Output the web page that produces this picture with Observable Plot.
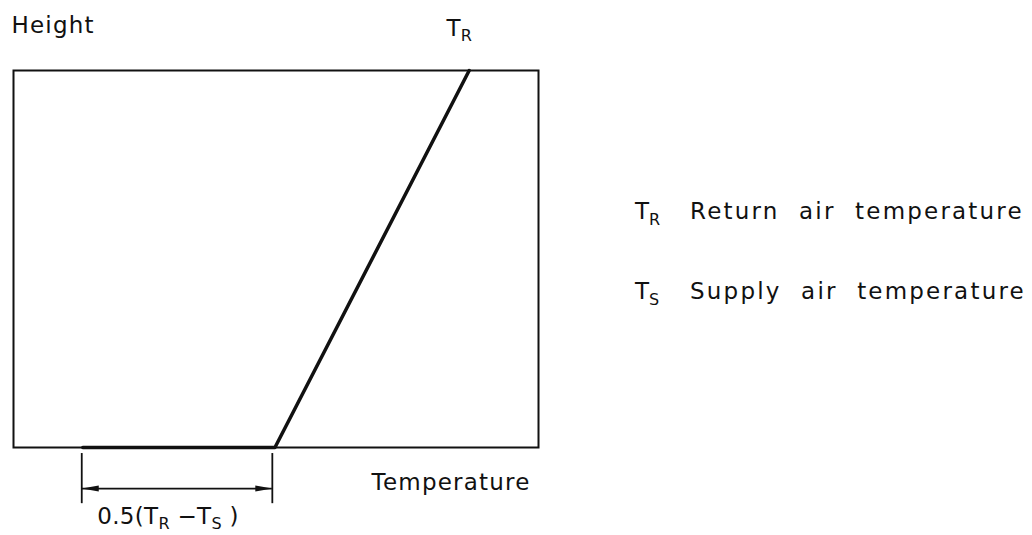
<!DOCTYPE html>
<html>
<head>
<meta charset="utf-8">
<script src="https://cdn.jsdelivr.net/npm/d3@7"></script>
<script src="https://cdn.jsdelivr.net/npm/@observablehq/plot@0.6"></script>
<style>
  html, body { margin: 0; padding: 0; background: #fff; }
  #wrap { position: relative; width: 1032px; height: 535px; overflow: hidden; }
  #legend { position: absolute; left: 635px; top: 198px; font-family: "DejaVu Sans", sans-serif; font-size: 23px; color: #111; letter-spacing: 2.2px; word-spacing: 10px; }
  .row { display: flex; align-items: baseline; height: 80px; white-space: nowrap; }
  .sym { width: 55px; letter-spacing: 0; }
  .sym sub { font-size: 16px; vertical-align: -6px; }
</style>
</head>
<body>
<div id="wrap"></div>
<script>
// Temperature profile (Temperature in arbitrary units, Height in % of room height)
const profileTemp = [13.2, 49.8, 86.8];
const profileHeight = [0, 0, 100];
// dimension 0.5(TR - TS)
const dimTemps = [13.0, 49.3];
// legend
const legendSymbols = [["T", "R"], ["T", "S"]];
const legendLabels = ["Return air temperature", "Supply air temperature"];

const profile = profileTemp.map((t, i) => ({t, h: profileHeight[i]}));
const mid = (dimTemps[0] + dimTemps[1]) / 2;

const headSymbol = {
  draw(context) {
    const L = 17, W = 6;
    context.moveTo(0, 0);
    context.lineTo(-L, -W / 2);
    context.lineTo(-L, W / 2);
    context.closePath();
  }
};

const chart = Plot.plot({
  width: 1032,
  height: 535,
  marginLeft: 13,
  marginRight: 494,
  marginTop: 70,
  marginBottom: 88,
  x: {domain: [0, 100], axis: null},
  y: {domain: [0, 100], axis: null},
  style: {fontFamily: "DejaVu Sans, sans-serif", fontSize: "23px", color: "#111", background: "#fff", letterSpacing: "1.2px"},
  marks: [
    Plot.frame({stroke: "#111", strokeWidth: 2}),
    Plot.line(profile, {x: "t", y: "h", stroke: "#111", strokeWidth: 3.5}),
    Plot.ruleX(dimTemps, {y1: -1.6, y2: -14.9, stroke: "#111", strokeWidth: 1.8}),
    Plot.ruleY([-10.9], {x1: dimTemps[0], x2: dimTemps[1], stroke: "#111", strokeWidth: 1.6}),
    Plot.dot(dimTemps, {x: d => d, y: -10.9, symbol: headSymbol, fill: "#111", stroke: "none", rotate: (d, i) => (i === 0 ? 180 : 0)}),
    Plot.text(["Height"], {frameAnchor: "top-left", textAnchor: "start", lineAnchor: "middle", dx: -2, dy: -45}),
    Plot.text(["T_R"], {x: profileTemp[2], frameAnchor: "top", textAnchor: "end", lineAnchor: "middle", dx: 3, dy: -42}),
    Plot.text(["Temperature"], {frameAnchor: "bottom-right", textAnchor: "end", lineAnchor: "middle", dx: -8, dy: 35}),
    Plot.text(["0.5(T_R −T_S )"], {x: mid, frameAnchor: "bottom", lineAnchor: "middle", dx: -9, dy: 69})
  ]
});

// turn "_X" into subscripts
const ns = "http://www.w3.org/2000/svg";
d3.select(chart).selectAll("text").each(function () {
  const s = this.textContent;
  if (!s.includes("_")) return;
  this.textContent = "";
  this.style.letterSpacing = "0.3px";
  const parts = s.split(/_(\w)/);
  let shifted = false;
  parts.forEach((p, i) => {
    if (!p) return;
    const t = document.createElementNS(ns, "tspan");
    t.textContent = p;
    if (i % 2) {
      t.setAttribute("font-size", "16px");
      t.setAttribute("dy", "5");
      shifted = true;
    } else if (shifted) {
      t.setAttribute("dy", "-5");
      shifted = false;
    }
    this.appendChild(t);
  });
});

const wrap = document.getElementById("wrap");
wrap.appendChild(chart);

const legend = document.createElement("div");
legend.id = "legend";
legendSymbols.forEach((sym, i) => {
  const row = document.createElement("div");
  row.className = "row";
  const s = document.createElement("span");
  s.className = "sym";
  s.innerHTML = sym[0] + "<sub>" + sym[1] + "</sub>";
  const l = document.createElement("span");
  l.textContent = legendLabels[i];
  row.appendChild(s);
  row.appendChild(l);
  legend.appendChild(row);
});
wrap.appendChild(legend);
</script>
</body>
</html>
